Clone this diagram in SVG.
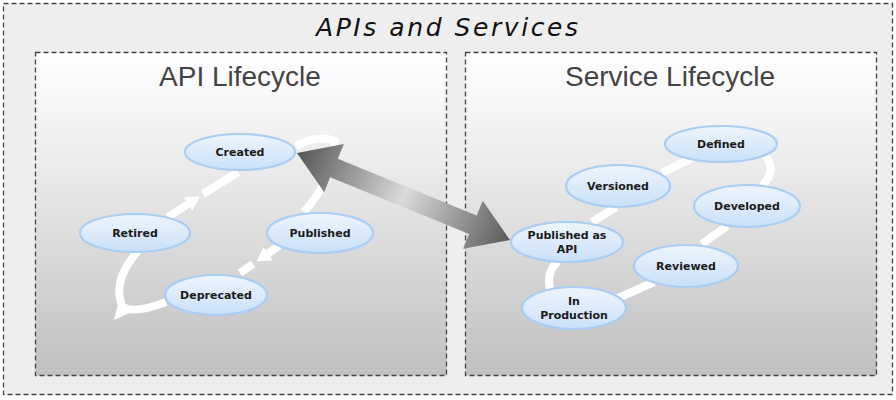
<svg xmlns="http://www.w3.org/2000/svg" width="896" height="400" viewBox="0 0 896 400">
  <defs>
    <linearGradient id="panelGrad" x1="0" y1="0" x2="0" y2="1">
      <stop offset="0" stop-color="#ffffff"/>
      <stop offset="0.35" stop-color="#ebebeb"/>
      <stop offset="1" stop-color="#c0c0c0"/>
    </linearGradient>
    <linearGradient id="nodeGrad" x1="0" y1="0" x2="0" y2="1">
      <stop offset="0" stop-color="#eef5fd"/>
      <stop offset="1" stop-color="#c9e0f8"/>
    </linearGradient>
    <linearGradient id="bigArrow" gradientUnits="userSpaceOnUse" x1="0" y1="0" x2="230" y2="0">
      <stop offset="0" stop-color="#555555"/>
      <stop offset="0.5" stop-color="#dadada"/>
      <stop offset="1" stop-color="#5a5a5a"/>
    </linearGradient>
    <style>
      .frame { stroke: #444; stroke-width: 1.3; stroke-dasharray: 5 3; }
      .node ellipse { fill: url(#nodeGrad); stroke: #a9cdf3; stroke-width: 2.2; }
      .node text { font-family: "DejaVu Sans", "Liberation Sans", sans-serif; font-weight: bold; font-size: 11px; fill: #1b1b1b; text-anchor: middle; }
      .ptitle { font-family: "Liberation Sans", Arial, sans-serif; font-size: 28px; fill: #444; text-anchor: middle; }
      .flow { fill: none; stroke: #ffffff; stroke-width: 8; stroke-linecap: butt; }
      .head { fill: #ffffff; }
    </style>
  </defs>

  <rect x="0" y="0" width="896" height="400" fill="#ffffff"/>
  <g id="outer">
    <rect x="3.5" y="3.5" width="889" height="391" fill="#eeeeee" class="frame"/>
    <text x="447" y="36" font-family="DejaVu Sans, sans-serif" font-style="italic" font-size="25" fill="#111" text-anchor="middle" textLength="262">APIs and Services</text>
  </g>

  <g id="panel-api">
    <rect x="35.5" y="52.5" width="411" height="323" fill="url(#panelGrad)" class="frame"/>
    <text x="240" y="86" class="ptitle">API Lifecycle</text>
  </g>
  <g id="panel-service">
    <rect x="465.5" y="52.5" width="411" height="323" fill="url(#panelGrad)" class="frame"/>
    <text x="670" y="86" class="ptitle">Service Lifecycle</text>
  </g>

  <g id="connectors">
    <!-- API lifecycle loop -->
    <path class="flow" d="M 296 146 Q 318 134 335 141 Q 334 178 304 212"/>
    <path class="flow" d="M 279 246 L 268 253.6"/>
    <polygon class="head" points="272.6,260.2 263.4,247 256.5,261.6"/>
    <path class="flow" d="M 253 264 L 240 273"/>
    <path class="flow" d="M 166 302 Q 132 315 122 306 Q 112 280 138 251"/>
    <polygon class="head" points="114,320 119,300 134,311"/>
    <path class="flow" d="M 168 217 L 188 204"/>
    <polygon class="head" points="192.3,210.7 183.7,197.3 199.8,196.4"/>
    <path class="flow" d="M 203 194 L 238 172"/>
    <!-- Service lifecycle loop -->
    <path class="flow" d="M 764 154 Q 778 170 762 186"/>
    <path class="flow" d="M 727 226 L 702 244"/>
    <path class="flow" d="M 654 282 L 616 299"/>
    <path class="flow" d="M 550 289 Q 546 272 558 261"/>
    <path class="flow" d="M 592 222 L 616 207"/>
    <path class="flow" d="M 662 173 L 692 158"/>
    <!-- big double arrow -->
    <polygon transform="translate(297 153) rotate(22.2)" fill="url(#bigArrow)" points="0,0 40,-26 40,-10 190,-10 190,-26 230,0 190,26 190,10 40,10 40,26"/>
  </g>

  <g id="node-created" class="node"><ellipse cx="240" cy="152" rx="55" ry="18"/><text x="240" y="156">Created</text></g>
  <g id="node-retired" class="node"><ellipse cx="135" cy="233" rx="55" ry="19"/><text x="135" y="237">Retired</text></g>
  <g id="node-published" class="node"><ellipse cx="320" cy="233" rx="53" ry="20"/><text x="320" y="237">Published</text></g>
  <g id="node-deprecated" class="node"><ellipse cx="216" cy="295" rx="51" ry="20"/><text x="216" y="299">Deprecated</text></g>

  <g id="node-defined" class="node"><ellipse cx="721" cy="144" rx="56" ry="18"/><text x="721" y="148">Defined</text></g>
  <g id="node-versioned" class="node"><ellipse cx="618" cy="186" rx="52" ry="21"/><text x="618" y="190">Versioned</text></g>
  <g id="node-developed" class="node"><ellipse cx="747" cy="206" rx="53" ry="21"/><text x="747" y="210">Developed</text></g>
  <g id="node-published-api" class="node"><ellipse cx="567" cy="242" rx="56" ry="20"/><text x="567" y="239">Published as</text><text x="567" y="253">API</text></g>
  <g id="node-reviewed" class="node"><ellipse cx="686" cy="266" rx="52" ry="21"/><text x="686" y="270">Reviewed</text></g>
  <g id="node-inproduction" class="node"><ellipse cx="574" cy="308" rx="52" ry="21"/><text x="574" y="305">In</text><text x="574" y="319">Production</text></g>
</svg>
